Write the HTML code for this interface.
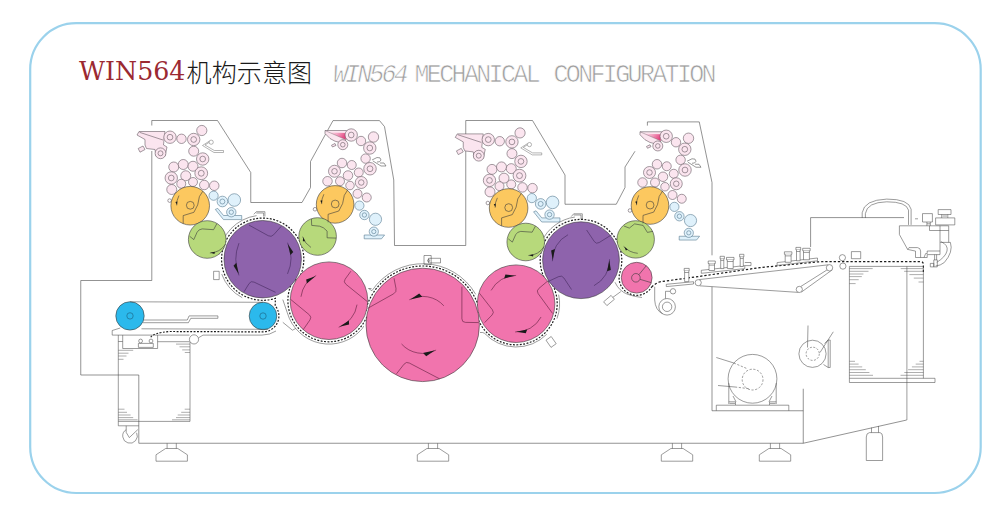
<!DOCTYPE html>
<html lang="zh"><head><meta charset="utf-8"><title>WIN564机构示意图</title>
<style>
html,body{margin:0;padding:0;background:#fff;}
body{width:1000px;height:515px;overflow:hidden;position:relative;}
svg{position:absolute;left:0;top:0;}
</style></head><body>
<svg width="1000" height="515" viewBox="0 0 1000 515" fill="none">
<rect x="30.2" y="23.2" width="950.5" height="469.8" rx="46" ry="46" fill="none" stroke="#9bd2ec" stroke-width="2.2"/>
<defs><linearGradient id="fg" x1="0" y1="0" x2="1" y2="0.35"><stop offset="0" stop-color="#fbdbe7"/><stop offset="0.45" stop-color="#f4a3c3"/><stop offset="1" stop-color="#e4447f"/></linearGradient></defs>
<path d="M151.75 120.5 H217.5 L250.75 172.5 V202.5 H302 L310.5 187.5 V161.5 L333 120.6 H379.5 L384.5 126.6 L393.75 180 L394.5 245.5 H465.75 V120.5 H532.5 L565 175 V204.25 H616.25 L625 187.5 V167 L635 151.25" fill="none" stroke="#4a4a4a" stroke-width="0.6" />
<path d="M647.4 125.6 V121.9 H699.25 L712 182.5 V255.3" fill="none" stroke="#4a4a4a" stroke-width="0.6" />
<path d="M712 286.8 V410.75 H803.25" fill="none" stroke="#4a4a4a" stroke-width="0.6" />
<path d="M151.8 120.5 V125.5 M151.8 151 V280.5 H80.75 V375 H138.8 V443.25 H803.25 V388.75" fill="none" stroke="#4a4a4a" stroke-width="0.6" />
<path d="M803.25 443.25 L906.75 420" fill="none" stroke="#4a4a4a" stroke-width="0.6" />
<path d="M810.6 247 V217.6 H904" fill="none" stroke="#4a4a4a" stroke-width="0.6" />
<g transform="translate(0,0)">
<path d="M139 131.5 H165 L164 140 L163.5 145 L167 147 L165 156 L156 156 L155 149.5 L146.5 148.5 L145 145 V139.5 L137 135 Z" fill="#fbe5ef" stroke="#675b63" stroke-width="0.6" />
<path d="M139.5 132.3 L163 140" fill="none" stroke="#675b63" stroke-width="0.6" />
<path d="M138.2 148.5 L143 146 L145 149.5 L140 152.2 Z" fill="#fbe5ef" stroke="#675b63" stroke-width="0.6" />
<circle cx="181.50" cy="138.80" r="4.70" fill="#fbe5ef" stroke="#675b63" stroke-width="0.6" />
<circle cx="201.80" cy="130.50" r="5.10" fill="#fbe5ef" stroke="#675b63" stroke-width="0.6" />
<circle cx="193.70" cy="151.20" r="5.00" fill="#fbe5ef" stroke="#675b63" stroke-width="0.6" />
<circle cx="173.75" cy="167.00" r="5.00" fill="#fbe5ef" stroke="#675b63" stroke-width="0.6" />
<circle cx="183.25" cy="164.50" r="5.00" fill="#fbe5ef" stroke="#675b63" stroke-width="0.6" />
<circle cx="193.00" cy="166.25" r="5.00" fill="#fbe5ef" stroke="#675b63" stroke-width="0.6" />
<circle cx="185.75" cy="175.75" r="5.00" fill="#fbe5ef" stroke="#675b63" stroke-width="0.6" />
<circle cx="181.25" cy="183.75" r="4.50" fill="#fbe5ef" stroke="#675b63" stroke-width="0.6" />
<circle cx="193.00" cy="182.00" r="4.50" fill="#fbe5ef" stroke="#675b63" stroke-width="0.6" />
<circle cx="171.75" cy="189.50" r="5.00" fill="#fbe5ef" stroke="#675b63" stroke-width="0.6" />
<circle cx="204.25" cy="185.00" r="4.75" fill="#fbe5ef" stroke="#675b63" stroke-width="0.6" />
<circle cx="214.25" cy="185.75" r="4.75" fill="#fbe5ef" stroke="#675b63" stroke-width="0.6" />
<circle cx="170.00" cy="137.20" r="6.20" fill="#fbe5ef" stroke="#675b63" stroke-width="0.6" />
<circle cx="170.00" cy="137.20" r="2.85" fill="#fbe5ef" stroke="#675b63" stroke-width="0.6" />
<circle cx="193.70" cy="139.50" r="6.20" fill="#fbe5ef" stroke="#675b63" stroke-width="0.6" />
<circle cx="193.70" cy="139.50" r="2.85" fill="#fbe5ef" stroke="#675b63" stroke-width="0.6" />
<circle cx="202.70" cy="159.00" r="6.20" fill="#fbe5ef" stroke="#675b63" stroke-width="0.6" />
<circle cx="202.70" cy="159.00" r="2.85" fill="#fbe5ef" stroke="#675b63" stroke-width="0.6" />
<circle cx="201.25" cy="173.25" r="6.40" fill="#fbe5ef" stroke="#675b63" stroke-width="0.6" />
<circle cx="201.25" cy="173.25" r="2.94" fill="#fbe5ef" stroke="#675b63" stroke-width="0.6" />
<circle cx="171.25" cy="178.00" r="6.20" fill="#fbe5ef" stroke="#675b63" stroke-width="0.6" />
<circle cx="171.25" cy="178.00" r="2.85" fill="#fbe5ef" stroke="#675b63" stroke-width="0.6" />
<circle cx="160.50" cy="153.30" r="5.40" fill="#fbe5ef" stroke="#675b63" stroke-width="0.6" />
<circle cx="160.50" cy="153.30" r="2.48" fill="#fbe5ef" stroke="#675b63" stroke-width="0.6" />
<circle cx="169.60" cy="200.60" r="1.80" fill="#fff" stroke="#675b63" stroke-width="0.6" />
<circle cx="213.60" cy="195.70" r="4.60" fill="#dff1fb" stroke="#587a91" stroke-width="0.6" />
<circle cx="234.30" cy="200.00" r="6.30" fill="#dff1fb" stroke="#587a91" stroke-width="0.6" />
<circle cx="222.40" cy="201.50" r="5.30" fill="#dff1fb" stroke="#587a91" stroke-width="0.6" />
<circle cx="222.40" cy="201.50" r="2.50" fill="#dff1fb" stroke="#587a91" stroke-width="0.6" />
<path d="M215.3 209.4 L217.8 208.4 L223.5 215.5 H241.7 V219.6 H223.5 Z" fill="#dff1fb" stroke="#587a91" stroke-width="0.6" />
<circle cx="231.30" cy="212.20" r="4.70" fill="#dff1fb" stroke="#587a91" stroke-width="0.6" />
<circle cx="231.30" cy="212.20" r="2.20" fill="#dff1fb" stroke="#587a91" stroke-width="0.6" />
<path d="M202.5 145.5 L209.2 141.2 M205 145 L210 141.8 M202.5 145.5 L214 152.5 H223.5 V150.5 H214.3 L205 145" fill="none" stroke="#6a6a6a" stroke-width="0.5" />
<circle cx="211.20" cy="142.20" r="2.10" fill="#fff" stroke="#6a6a6a" stroke-width="0.5" />
</g>
<g transform="translate(318.25,2.4)">
<path d="M139 131.5 H165 L164 140 L163.5 145 L167 147 L165 156 L156 156 L155 149.5 L146.5 148.5 L145 145 V139.5 L137 135 Z" fill="#fbe5ef" stroke="#675b63" stroke-width="0.6" />
<path d="M139.5 132.3 L163 140" fill="none" stroke="#675b63" stroke-width="0.6" />
<path d="M138.2 148.5 L143 146 L145 149.5 L140 152.2 Z" fill="#fbe5ef" stroke="#675b63" stroke-width="0.6" />
<circle cx="181.50" cy="138.80" r="4.70" fill="#fbe5ef" stroke="#675b63" stroke-width="0.6" />
<circle cx="201.80" cy="130.50" r="5.10" fill="#fbe5ef" stroke="#675b63" stroke-width="0.6" />
<circle cx="193.70" cy="151.20" r="5.00" fill="#fbe5ef" stroke="#675b63" stroke-width="0.6" />
<circle cx="173.75" cy="167.00" r="5.00" fill="#fbe5ef" stroke="#675b63" stroke-width="0.6" />
<circle cx="183.25" cy="164.50" r="5.00" fill="#fbe5ef" stroke="#675b63" stroke-width="0.6" />
<circle cx="193.00" cy="166.25" r="5.00" fill="#fbe5ef" stroke="#675b63" stroke-width="0.6" />
<circle cx="185.75" cy="175.75" r="5.00" fill="#fbe5ef" stroke="#675b63" stroke-width="0.6" />
<circle cx="181.25" cy="183.75" r="4.50" fill="#fbe5ef" stroke="#675b63" stroke-width="0.6" />
<circle cx="193.00" cy="182.00" r="4.50" fill="#fbe5ef" stroke="#675b63" stroke-width="0.6" />
<circle cx="171.75" cy="189.50" r="5.00" fill="#fbe5ef" stroke="#675b63" stroke-width="0.6" />
<circle cx="204.25" cy="185.00" r="4.75" fill="#fbe5ef" stroke="#675b63" stroke-width="0.6" />
<circle cx="214.25" cy="185.75" r="4.75" fill="#fbe5ef" stroke="#675b63" stroke-width="0.6" />
<circle cx="170.00" cy="137.20" r="6.20" fill="#fbe5ef" stroke="#675b63" stroke-width="0.6" />
<circle cx="170.00" cy="137.20" r="2.85" fill="#fbe5ef" stroke="#675b63" stroke-width="0.6" />
<circle cx="193.70" cy="139.50" r="6.20" fill="#fbe5ef" stroke="#675b63" stroke-width="0.6" />
<circle cx="193.70" cy="139.50" r="2.85" fill="#fbe5ef" stroke="#675b63" stroke-width="0.6" />
<circle cx="202.70" cy="159.00" r="6.20" fill="#fbe5ef" stroke="#675b63" stroke-width="0.6" />
<circle cx="202.70" cy="159.00" r="2.85" fill="#fbe5ef" stroke="#675b63" stroke-width="0.6" />
<circle cx="201.25" cy="173.25" r="6.40" fill="#fbe5ef" stroke="#675b63" stroke-width="0.6" />
<circle cx="201.25" cy="173.25" r="2.94" fill="#fbe5ef" stroke="#675b63" stroke-width="0.6" />
<circle cx="171.25" cy="178.00" r="6.20" fill="#fbe5ef" stroke="#675b63" stroke-width="0.6" />
<circle cx="171.25" cy="178.00" r="2.85" fill="#fbe5ef" stroke="#675b63" stroke-width="0.6" />
<circle cx="160.50" cy="153.30" r="5.40" fill="#fbe5ef" stroke="#675b63" stroke-width="0.6" />
<circle cx="160.50" cy="153.30" r="2.48" fill="#fbe5ef" stroke="#675b63" stroke-width="0.6" />
<circle cx="169.60" cy="200.60" r="1.80" fill="#fff" stroke="#675b63" stroke-width="0.6" />
<circle cx="213.60" cy="195.70" r="4.60" fill="#dff1fb" stroke="#587a91" stroke-width="0.6" />
<circle cx="234.30" cy="200.00" r="6.30" fill="#dff1fb" stroke="#587a91" stroke-width="0.6" />
<circle cx="222.40" cy="201.50" r="5.30" fill="#dff1fb" stroke="#587a91" stroke-width="0.6" />
<circle cx="222.40" cy="201.50" r="2.50" fill="#dff1fb" stroke="#587a91" stroke-width="0.6" />
<path d="M215.3 209.4 L217.8 208.4 L223.5 215.5 H241.7 V219.6 H223.5 Z" fill="#dff1fb" stroke="#587a91" stroke-width="0.6" />
<circle cx="231.30" cy="212.20" r="4.70" fill="#dff1fb" stroke="#587a91" stroke-width="0.6" />
<circle cx="231.30" cy="212.20" r="2.20" fill="#dff1fb" stroke="#587a91" stroke-width="0.6" />
<path d="M202.5 145.5 L209.2 141.2 M205 145 L210 141.8 M202.5 145.5 L214 152.5 H223.5 V150.5 H214.3 L205 145" fill="none" stroke="#6a6a6a" stroke-width="0.5" />
<circle cx="211.20" cy="142.20" r="2.10" fill="#fff" stroke="#6a6a6a" stroke-width="0.5" />
</g>
<g transform="translate(0,0)">
<path d="M325 130.5 H347.5 L346 140 L340 142.5 L335 141.2 L330 138.5 L325 133.5 Z" fill="#fbe5ef" stroke="#675b63" stroke-width="0.6" />
<path d="M329.5 132.6 L346.8 133 L345.6 139.6 Z" fill="url(#fg)" stroke="none" stroke-width="0.6" />
<path d="M325 130.5 L345.6 139.6" fill="none" stroke="#675b63" stroke-width="0.4" />
<path d="M331.5 145.2 L335 143.5 L336 145.4 L332.5 147 Z" fill="#fbe5ef" stroke="#675b63" stroke-width="0.6" />
<circle cx="361.00" cy="141.00" r="4.70" fill="#fbe5ef" stroke="#675b63" stroke-width="0.6" />
<circle cx="373.50" cy="137.00" r="5.20" fill="#fbe5ef" stroke="#675b63" stroke-width="0.6" />
<circle cx="365.60" cy="158.60" r="4.70" fill="#fbe5ef" stroke="#675b63" stroke-width="0.6" />
<circle cx="342.00" cy="163.00" r="4.75" fill="#fbe5ef" stroke="#675b63" stroke-width="0.6" />
<circle cx="351.75" cy="165.00" r="4.50" fill="#fbe5ef" stroke="#675b63" stroke-width="0.6" />
<circle cx="358.75" cy="172.50" r="4.50" fill="#fbe5ef" stroke="#675b63" stroke-width="0.6" />
<circle cx="348.00" cy="175.50" r="4.75" fill="#fbe5ef" stroke="#675b63" stroke-width="0.6" />
<circle cx="327.50" cy="181.25" r="4.75" fill="#fbe5ef" stroke="#675b63" stroke-width="0.6" />
<circle cx="340.00" cy="181.25" r="4.50" fill="#fbe5ef" stroke="#675b63" stroke-width="0.6" />
<circle cx="350.00" cy="185.50" r="4.25" fill="#fbe5ef" stroke="#675b63" stroke-width="0.6" />
<circle cx="357.50" cy="193.75" r="4.50" fill="#fbe5ef" stroke="#675b63" stroke-width="0.6" />
<circle cx="366.75" cy="197.50" r="4.50" fill="#fbe5ef" stroke="#675b63" stroke-width="0.6" />
<circle cx="351.20" cy="135.00" r="6.20" fill="#fbe5ef" stroke="#675b63" stroke-width="0.6" />
<circle cx="351.20" cy="135.00" r="2.85" fill="#fbe5ef" stroke="#675b63" stroke-width="0.6" />
<circle cx="342.80" cy="144.70" r="5.00" fill="#fbe5ef" stroke="#675b63" stroke-width="0.6" />
<circle cx="342.80" cy="144.70" r="2.30" fill="#fbe5ef" stroke="#675b63" stroke-width="0.6" />
<circle cx="369.80" cy="148.00" r="6.20" fill="#fbe5ef" stroke="#675b63" stroke-width="0.6" />
<circle cx="369.80" cy="148.00" r="2.85" fill="#fbe5ef" stroke="#675b63" stroke-width="0.6" />
<circle cx="370.00" cy="168.75" r="6.25" fill="#fbe5ef" stroke="#675b63" stroke-width="0.6" />
<circle cx="370.00" cy="168.75" r="2.88" fill="#fbe5ef" stroke="#675b63" stroke-width="0.6" />
<circle cx="334.50" cy="171.25" r="6.00" fill="#fbe5ef" stroke="#675b63" stroke-width="0.6" />
<circle cx="334.50" cy="171.25" r="2.76" fill="#fbe5ef" stroke="#675b63" stroke-width="0.6" />
<circle cx="361.25" cy="182.50" r="6.00" fill="#fbe5ef" stroke="#675b63" stroke-width="0.6" />
<circle cx="361.25" cy="182.50" r="2.76" fill="#fbe5ef" stroke="#675b63" stroke-width="0.6" />
<circle cx="315.00" cy="209.25" r="1.80" fill="#fff" stroke="#675b63" stroke-width="0.6" />
<circle cx="359.40" cy="205.60" r="4.60" fill="#dff1fb" stroke="#587a91" stroke-width="0.6" />
<circle cx="375.50" cy="219.30" r="6.10" fill="#dff1fb" stroke="#587a91" stroke-width="0.6" />
<circle cx="364.40" cy="215.00" r="4.70" fill="#dff1fb" stroke="#587a91" stroke-width="0.6" />
<circle cx="364.40" cy="215.00" r="2.20" fill="#dff1fb" stroke="#587a91" stroke-width="0.6" />
<path d="M364.2 235 H384.6 L381.5 238.8 H364.2 Z" fill="#dff1fb" stroke="#587a91" stroke-width="0.6" />
<circle cx="373.80" cy="231.60" r="4.60" fill="#dff1fb" stroke="#587a91" stroke-width="0.6" />
<circle cx="373.80" cy="231.60" r="2.10" fill="#dff1fb" stroke="#587a91" stroke-width="0.6" />
<path d="M372 160 L377 157.5 Q381 157 381 160 Q380 162.5 377 162 M373 161 L381 166 H386 L384 163 L380 163" fill="none" stroke="#555" stroke-width="0.6" />
</g>
<g transform="translate(315,1.25)">
<path d="M325 130.5 H347.5 L346 140 L340 142.5 L335 141.2 L330 138.5 L325 133.5 Z" fill="#fbe5ef" stroke="#675b63" stroke-width="0.6" />
<path d="M329.5 132.6 L346.8 133 L345.6 139.6 Z" fill="url(#fg)" stroke="none" stroke-width="0.6" />
<path d="M325 130.5 L345.6 139.6" fill="none" stroke="#675b63" stroke-width="0.4" />
<path d="M331.5 145.2 L335 143.5 L336 145.4 L332.5 147 Z" fill="#fbe5ef" stroke="#675b63" stroke-width="0.6" />
<circle cx="361.00" cy="141.00" r="4.70" fill="#fbe5ef" stroke="#675b63" stroke-width="0.6" />
<circle cx="373.50" cy="137.00" r="5.20" fill="#fbe5ef" stroke="#675b63" stroke-width="0.6" />
<circle cx="365.60" cy="158.60" r="4.70" fill="#fbe5ef" stroke="#675b63" stroke-width="0.6" />
<circle cx="342.00" cy="163.00" r="4.75" fill="#fbe5ef" stroke="#675b63" stroke-width="0.6" />
<circle cx="351.75" cy="165.00" r="4.50" fill="#fbe5ef" stroke="#675b63" stroke-width="0.6" />
<circle cx="358.75" cy="172.50" r="4.50" fill="#fbe5ef" stroke="#675b63" stroke-width="0.6" />
<circle cx="348.00" cy="175.50" r="4.75" fill="#fbe5ef" stroke="#675b63" stroke-width="0.6" />
<circle cx="327.50" cy="181.25" r="4.75" fill="#fbe5ef" stroke="#675b63" stroke-width="0.6" />
<circle cx="340.00" cy="181.25" r="4.50" fill="#fbe5ef" stroke="#675b63" stroke-width="0.6" />
<circle cx="350.00" cy="185.50" r="4.25" fill="#fbe5ef" stroke="#675b63" stroke-width="0.6" />
<circle cx="357.50" cy="193.75" r="4.50" fill="#fbe5ef" stroke="#675b63" stroke-width="0.6" />
<circle cx="366.75" cy="197.50" r="4.50" fill="#fbe5ef" stroke="#675b63" stroke-width="0.6" />
<circle cx="351.20" cy="135.00" r="6.20" fill="#fbe5ef" stroke="#675b63" stroke-width="0.6" />
<circle cx="351.20" cy="135.00" r="2.85" fill="#fbe5ef" stroke="#675b63" stroke-width="0.6" />
<circle cx="342.80" cy="144.70" r="5.00" fill="#fbe5ef" stroke="#675b63" stroke-width="0.6" />
<circle cx="342.80" cy="144.70" r="2.30" fill="#fbe5ef" stroke="#675b63" stroke-width="0.6" />
<circle cx="369.80" cy="148.00" r="6.20" fill="#fbe5ef" stroke="#675b63" stroke-width="0.6" />
<circle cx="369.80" cy="148.00" r="2.85" fill="#fbe5ef" stroke="#675b63" stroke-width="0.6" />
<circle cx="370.00" cy="168.75" r="6.25" fill="#fbe5ef" stroke="#675b63" stroke-width="0.6" />
<circle cx="370.00" cy="168.75" r="2.88" fill="#fbe5ef" stroke="#675b63" stroke-width="0.6" />
<circle cx="334.50" cy="171.25" r="6.00" fill="#fbe5ef" stroke="#675b63" stroke-width="0.6" />
<circle cx="334.50" cy="171.25" r="2.76" fill="#fbe5ef" stroke="#675b63" stroke-width="0.6" />
<circle cx="361.25" cy="182.50" r="6.00" fill="#fbe5ef" stroke="#675b63" stroke-width="0.6" />
<circle cx="361.25" cy="182.50" r="2.76" fill="#fbe5ef" stroke="#675b63" stroke-width="0.6" />
<circle cx="315.00" cy="209.25" r="1.80" fill="#fff" stroke="#675b63" stroke-width="0.6" />
<circle cx="359.40" cy="205.60" r="4.60" fill="#dff1fb" stroke="#587a91" stroke-width="0.6" />
<circle cx="375.50" cy="219.30" r="6.10" fill="#dff1fb" stroke="#587a91" stroke-width="0.6" />
<circle cx="364.40" cy="215.00" r="4.70" fill="#dff1fb" stroke="#587a91" stroke-width="0.6" />
<circle cx="364.40" cy="215.00" r="2.20" fill="#dff1fb" stroke="#587a91" stroke-width="0.6" />
<path d="M364.2 235 H384.6 L381.5 238.8 H364.2 Z" fill="#dff1fb" stroke="#587a91" stroke-width="0.6" />
<circle cx="373.80" cy="231.60" r="4.60" fill="#dff1fb" stroke="#587a91" stroke-width="0.6" />
<circle cx="373.80" cy="231.60" r="2.10" fill="#dff1fb" stroke="#587a91" stroke-width="0.6" />
<path d="M372 160 L377 157.5 Q381 157 381 160 Q380 162.5 377 162 M373 161 L381 166 H386 L384 163 L380 163" fill="none" stroke="#555" stroke-width="0.6" />
</g>
<path d="M218.94 254.60 A44.00 44.00 0 0 1 256.58 215.63 " fill="none" stroke="#3a3a3a" stroke-width="0.5" />
<path d="M221.73 274.11 A43.60 43.60 0 0 0 242.23 297.70 " fill="none" stroke="#3a3a3a" stroke-width="0.5" />
<path d="M213.6 271.3 h5.6 v8.3 h-5.6 Z" fill="none" stroke="#3a3a3a" stroke-width="0.5" />
<path d="M253.8 214.3 L256.3 211.7 H264.9 V216.5 M256.3 213 H263.6 V216.5" fill="none" stroke="#3a3a3a" stroke-width="0.5" />
<path d="M282.8 299.6 L287.28 312.66 A43.40 43.40 0 0 0 362.25 328.60  l1.5 -2.5" fill="none" stroke="#3a3a3a" stroke-width="0.5" />
<path d="M282.8 322.3 L292.4 330.2 L295.9 328.4" fill="none" stroke="#3a3a3a" stroke-width="0.5" />
<path d="M371.5 288.5 h-3 L371.96 290.68 A61.20 61.20 0 0 1 475.70 294.30 " fill="none" stroke="#3a3a3a" stroke-width="0.5" />
<path d="M424 255.5 h7.2 v8.8 h-7.2 Z M428.5 258.3 h12 v4.6 h-12 Z" fill="none" stroke="#3a3a3a" stroke-width="0.5" />
<circle cx="428.60" cy="260.60" r="1.10" fill="none" stroke="#3a3a3a" stroke-width="0.5" />
<path d="M480 332.5 h2.5 L484.43 333.23 A43.30 43.30 0 0 0 546.72 334.32 " fill="none" stroke="#3a3a3a" stroke-width="0.5" />
<path d="M546 340.2 L551.2 336.5 L556.2 343.7 L551 347.4 Z" fill="#fff" stroke="#3a3a3a" stroke-width="0.5" />
<path d="M571.2 216.6 L573.7 213.8 H582.3 V219.3 M573.7 215 H581 V219.3" fill="none" stroke="#3a3a3a" stroke-width="0.5" />
<path d="M541.48 241.77 A43.60 43.60 0 0 1 574.93 217.02 " fill="none" stroke="#3a3a3a" stroke-width="0.5" />
<path d="M556.98 318.58 A43.50 43.50 0 0 0 558.65 294.66 " fill="none" stroke="#3a3a3a" stroke-width="0.5" />
<path d="M615 282.3 Q619 291 627.5 294.3 Q634 296.6 642 297.5" fill="none" stroke="#3a3a3a" stroke-width="0.5" />
<path d="M603.6 301.8 L611.1 295.4 L614.4 299.3 L606.9 305.6 Z M612.8 297.4 L620.8 291.6" fill="none" stroke="#3a3a3a" stroke-width="0.5" />
<path d="M150.8 337.3 Q153 332.8 170 331.5 L263 331.9 L263.00 331.90 A15.90 15.90 0 0 0 275.18 305.78 L275.40 298.29 A41.10 41.10 0 0 1 237.41 226.80 A41.10 41.10 0 0 1 297.54 281.01 L294.16 278.89 A41.10 41.10 0 0 0 312.77 338.46 A41.10 41.10 0 0 0 368.79 310.98 L365.67 310.17 A58.90 58.90 0 0 1 480.14 311.86 L476.02 312.80 A41.10 41.10 0 0 0 532.36 341.45 A41.10 41.10 0 0 0 550.24 280.82 L547.11 282.92 A40.80 40.80 0 0 1 575.18 219.82 A40.80 40.80 0 0 1 619.92 272.43 L619.91 272.42 A17.60 17.60 0 0 0 651.63 287.03 " fill="none" stroke="#1c1c1c" stroke-width="1.2" stroke-dasharray="1.9 1.5"/>
<path d="M651.63 287.03 Q655 283.6 660 281.8 L673 280 L698 276.6 L760 267.6 L818 261.9 Q826 261.5 834 261.6 L920.5 261.6 Q923.4 261.7 923.4 264.5 V272" fill="none" stroke="#1c1c1c" stroke-width="1.2" stroke-dasharray="2.3 1.9"/>
<circle cx="190.20" cy="205.70" r="19.30" fill="#fcc85f" stroke="#3a3a3a" stroke-width="0.6" />
<circle cx="335.10" cy="204.40" r="18.80" fill="#fcc85f" stroke="#3a3a3a" stroke-width="0.6" />
<circle cx="508.60" cy="208.00" r="19.30" fill="#fcc85f" stroke="#3a3a3a" stroke-width="0.6" />
<circle cx="650.00" cy="205.50" r="18.80" fill="#fcc85f" stroke="#3a3a3a" stroke-width="0.6" />
<circle cx="207.20" cy="239.50" r="18.80" fill="#b7d97b" stroke="#3a3a3a" stroke-width="0.6" />
<circle cx="317.60" cy="236.50" r="18.80" fill="#b7d97b" stroke="#3a3a3a" stroke-width="0.6" />
<circle cx="525.75" cy="242.00" r="18.80" fill="#b7d97b" stroke="#3a3a3a" stroke-width="0.6" />
<circle cx="635.70" cy="239.40" r="18.70" fill="#b7d97b" stroke="#3a3a3a" stroke-width="0.6" />
<circle cx="262.70" cy="259.20" r="38.70" fill="#8e63ac" stroke="#3a3a3a" stroke-width="0.6" />
<circle cx="581.00" cy="260.20" r="38.40" fill="#8e63ac" stroke="#3a3a3a" stroke-width="0.6" />
<circle cx="329.00" cy="300.70" r="38.80" fill="#f174ad" stroke="#3a3a3a" stroke-width="0.6" />
<circle cx="516.10" cy="303.70" r="38.80" fill="#f174ad" stroke="#3a3a3a" stroke-width="0.6" />
<circle cx="422.70" cy="324.90" r="56.70" fill="#f174ad" stroke="#3a3a3a" stroke-width="0.6" />
<circle cx="636.70" cy="277.70" r="15.40" fill="#f174ad" stroke="#3a3a3a" stroke-width="0.6" />
<circle cx="130.00" cy="315.90" r="14.20" fill="#2bb9ec" stroke="#3a3a3a" stroke-width="0.6" />
<circle cx="263.00" cy="316.00" r="13.80" fill="#2bb9ec" stroke="#3a3a3a" stroke-width="0.6" />
<circle cx="130.00" cy="315.90" r="3.20" fill="none" stroke="#1d6a8c" stroke-width="0.7" />
<circle cx="263.00" cy="316.00" r="3.20" fill="none" stroke="#1d6a8c" stroke-width="0.7" />
<circle cx="190.30" cy="205.30" r="3.90" fill="none" stroke="#3a3a3a" stroke-width="0.6" />
<path d="M202.80 191.20 L199.40 196.60 L197.70 204.90 L193.90 212.30 L183.20 215.60 L183.20 223.60" fill="none" stroke="#3a3a3a" stroke-width="0.6" />
<path d="M178.98 195.55 A19.50 19.50 0 0 0 176.71 205.38 " fill="none" stroke="#3a3a3a" stroke-width="0.6" />
<path d="M177.00 204.70 L175.37 202.02 L177.26 201.56 Z" fill="#1a1a1a" stroke="none" stroke-width="0.6" />
<circle cx="335.20" cy="204.00" r="3.90" fill="none" stroke="#3a3a3a" stroke-width="0.6" />
<path d="M347.70 189.90 L344.30 195.30 L342.60 203.60 L338.80 211.00 L328.10 214.30 L328.10 222.30" fill="none" stroke="#3a3a3a" stroke-width="0.6" />
<path d="M323.88 194.25 A19.50 19.50 0 0 0 321.61 204.08 " fill="none" stroke="#3a3a3a" stroke-width="0.6" />
<path d="M321.90 203.40 L320.27 200.72 L322.16 200.26 Z" fill="#1a1a1a" stroke="none" stroke-width="0.6" />
<circle cx="508.70" cy="207.60" r="3.90" fill="none" stroke="#3a3a3a" stroke-width="0.6" />
<path d="M521.20 193.50 L517.80 198.90 L516.10 207.20 L512.30 214.60 L501.60 217.90 L501.60 225.90" fill="none" stroke="#3a3a3a" stroke-width="0.6" />
<path d="M497.38 197.85 A19.50 19.50 0 0 0 495.11 207.68 " fill="none" stroke="#3a3a3a" stroke-width="0.6" />
<path d="M495.40 207.00 L493.77 204.32 L495.66 203.86 Z" fill="#1a1a1a" stroke="none" stroke-width="0.6" />
<circle cx="650.10" cy="205.10" r="3.90" fill="none" stroke="#3a3a3a" stroke-width="0.6" />
<path d="M662.60 191.00 L659.20 196.40 L657.50 204.70 L653.70 212.10 L643.00 215.40 L643.00 223.40" fill="none" stroke="#3a3a3a" stroke-width="0.6" />
<path d="M638.78 195.35 A19.50 19.50 0 0 0 636.51 205.18 " fill="none" stroke="#3a3a3a" stroke-width="0.6" />
<path d="M636.80 204.50 L635.17 201.82 L637.06 201.36 Z" fill="#1a1a1a" stroke="none" stroke-width="0.6" />
<path d="M189.70 236.30 L193.80 239.60 L197.10 232.20 Q198.70 229.20 202.20 228.90 L213.60 229.70 L216.90 223.60" fill="none" stroke="#3a3a3a" stroke-width="0.6" />
<path d="M225.55 244.12 A19.50 19.50 0 0 1 209.88 252.99 " fill="none" stroke="#3a3a3a" stroke-width="0.6" />
<path d="M210.54 252.65 L214.42 253.95 L214.88 251.84 Z" fill="#1a1a1a" stroke="none" stroke-width="0.6" />
<path d="M311.40 218.90 L311.70 225.40 L319.60 226.20 Q323.60 227.00 327.10 231.10 L327.10 237.80 L336.20 238.10" fill="none" stroke="#3a3a3a" stroke-width="0.6" />
<path d="M311.00 247.46 A20.00 20.00 0 0 1 302.58 236.68 " fill="none" stroke="#3a3a3a" stroke-width="0.6" />
<path d="M303.09 237.24 L302.90 241.32 L305.06 241.20 Z" fill="#1a1a1a" stroke="none" stroke-width="0.6" />
<path d="M508.25 238.80 L512.35 242.10 L515.65 234.70 Q517.25 231.70 520.75 231.40 L532.15 232.20 L535.45 226.10" fill="none" stroke="#3a3a3a" stroke-width="0.6" />
<path d="M544.10 246.62 A19.50 19.50 0 0 1 528.43 255.49 " fill="none" stroke="#3a3a3a" stroke-width="0.6" />
<path d="M529.09 255.15 L532.97 256.45 L533.43 254.34 Z" fill="#1a1a1a" stroke="none" stroke-width="0.6" />
<path d="M623.90 226.00 L629.30 228.10 L634.60 223.90 L643.10 225.40 L647.40 232.40 L653.00 231.30" fill="none" stroke="#3a3a3a" stroke-width="0.6" />
<path d="M637.78 253.32 A22.00 22.00 0 0 1 623.61 246.40 " fill="none" stroke="#3a3a3a" stroke-width="0.6" />
<path d="M624.36 246.74 L625.88 250.53 L627.79 249.54 Z" fill="#1a1a1a" stroke="none" stroke-width="0.6" />
<path d="M249.00 225.10 L268.24 235.71 Q271.30 237.40 273.63 234.79 L281.20 226.30" fill="none" stroke="#43285c" stroke-width="0.6" />
<path d="M244.00 291.80 L249.06 283.58 Q250.90 280.60 254.06 282.10 L275.50 292.30" fill="none" stroke="#43285c" stroke-width="0.6" />
<path d="M238.96 243.17 A44.00 44.00 0 0 0 238.96 275.43 " fill="none" stroke="#43285c" stroke-width="0.6" />
<path d="M238.71 273.89 L233.54 265.67 L236.34 262.75 Z" fill="#1a1a1a" stroke="none" stroke-width="0.6" />
<path d="M287.50 273.91 A37.50 37.50 0 0 0 287.50 242.69 " fill="none" stroke="#43285c" stroke-width="0.6" />
<path d="M287.74 244.00 L293.22 252.07 L290.46 255.04 Z" fill="#1a1a1a" stroke="none" stroke-width="0.6" />
<path d="M586.60 230.00 L594.26 241.49 Q596.20 244.40 599.17 242.55 L612.40 234.30" fill="none" stroke="#43285c" stroke-width="0.6" />
<path d="M548.10 281.50 L558.82 276.56 Q562.00 275.10 563.93 278.02 L571.50 289.50" fill="none" stroke="#43285c" stroke-width="0.6" />
<path d="M568.02 234.72 A28.60 28.60 0 0 0 552.42 261.20 " fill="none" stroke="#43285c" stroke-width="0.6" />
<path d="M552.70 260.20 L551.13 250.51 L554.96 249.12 Z" fill="#1a1a1a" stroke="none" stroke-width="0.6" />
<path d="M593.98 285.68 A28.60 28.60 0 0 0 609.58 259.20 " fill="none" stroke="#43285c" stroke-width="0.6" />
<path d="M609.30 260.20 L610.87 269.89 L607.04 271.28 Z" fill="#1a1a1a" stroke="none" stroke-width="0.6" />
<path d="M350.90 271.20 L345.15 279.16 Q343.10 282.00 345.82 284.20 L367.60 301.80" fill="none" stroke="#5e1f3c" stroke-width="0.6" />
<path d="M290.50 299.30 L309.30 314.78 Q312.00 317.00 310.00 319.87 L303.10 329.80" fill="none" stroke="#5e1f3c" stroke-width="0.6" />
<path d="M300.98 296.76 A28.30 28.30 0 0 1 316.15 275.48 " fill="none" stroke="#5e1f3c" stroke-width="0.6" />
<path d="M315.43 276.21 L306.20 279.55 L306.85 283.57 Z" fill="#1a1a1a" stroke="none" stroke-width="0.6" />
<path d="M357.02 304.64 A28.30 28.30 0 0 1 338.68 327.29 " fill="none" stroke="#5e1f3c" stroke-width="0.6" />
<path d="M339.49 326.66 L349.06 324.47 L348.90 320.40 Z" fill="#1a1a1a" stroke="none" stroke-width="0.6" />
<path d="M479.40 293.20 L492.34 309.74 Q494.50 312.50 492.05 315.00 L484.60 322.60" fill="none" stroke="#5e1f3c" stroke-width="0.6" />
<path d="M547.70 281.00 L538.77 288.54 Q536.10 290.80 538.16 293.63 L552.60 313.50" fill="none" stroke="#5e1f3c" stroke-width="0.6" />
<path d="M491.11 290.41 A28.30 28.30 0 0 1 516.10 275.40 " fill="none" stroke="#5e1f3c" stroke-width="0.6" />
<path d="M515.12 275.72 L505.38 274.51 L504.14 278.38 Z" fill="#1a1a1a" stroke="none" stroke-width="0.6" />
<path d="M541.09 316.99 A28.30 28.30 0 0 1 515.11 331.98 " fill="none" stroke="#5e1f3c" stroke-width="0.6" />
<path d="M516.10 331.70 L525.79 333.25 L527.17 329.42 Z" fill="#1a1a1a" stroke="none" stroke-width="0.6" />
<path d="M394.00 278.20 L396.03 288.66 Q396.70 292.10 393.65 293.81 L367.60 308.40" fill="none" stroke="#5e1f3c" stroke-width="0.6" />
<path d="M461.90 286.70 L461.90 318.80 Q461.90 322.30 465.40 322.36 L478.60 322.60" fill="none" stroke="#5e1f3c" stroke-width="0.6" />
<path d="M396.50 373.80 L404.04 364.16 Q406.20 361.40 409.30 363.02 L439.50 378.80" fill="none" stroke="#5e1f3c" stroke-width="0.6" />
<path d="M443.88 305.83 A28.50 28.50 0 0 0 409.32 299.74 " fill="none" stroke="#5e1f3c" stroke-width="0.6" />
<path d="M410.34 299.55 L419.19 293.60 L422.27 296.70 Z" fill="#1a1a1a" stroke="none" stroke-width="0.6" />
<path d="M401.52 343.97 A28.50 28.50 0 0 0 436.08 350.06 " fill="none" stroke="#5e1f3c" stroke-width="0.6" />
<path d="M435.06 350.25 L426.21 356.20 L423.13 353.10 Z" fill="#1a1a1a" stroke="none" stroke-width="0.6" />
<circle cx="635.90" cy="277.80" r="4.30" fill="none" stroke="#3a3a3a" stroke-width="0.6" />
<path d="M638.90 274.70 L646.30 265.70 M640.00 279.30 L651.30 282.70" fill="none" stroke="#3a3a3a" stroke-width="0.6" />
<path d="M130 301.8 L263 302.3" fill="none" stroke="#4a4a4a" stroke-width="0.55" />
<path d="M143.9 320 H187.3 L189.1 315.9 H217.9 V318.3 H190.8 L188.4 322.7 H143" fill="none" stroke="#4a4a4a" stroke-width="0.55" />
<path d="M120.3 328 L112.2 330.5 V335.1 H189.5" fill="none" stroke="#4a4a4a" stroke-width="0.55" />
<path d="M141.5 328.8 L268 329.3" fill="none" stroke="#4a4a4a" stroke-width="0.55" />
<path d="M198.5 337.8 L203 335.1 L262 335.1 Q270 335 276 331" fill="none" stroke="#4a4a4a" stroke-width="0.55" />
<circle cx="194.00" cy="339.40" r="4.60" fill="#fff" stroke="#4a4a4a" stroke-width="0.55" />
<path d="M122.7 335.1 V348.5 H157.6 V335.1 M157.6 341.7 H189.6 M118.3 341.5 H122.7" fill="none" stroke="#4a4a4a" stroke-width="0.55" />
<path d="M138.4 343.4 H153.3 V347.4 H138.4 Z" fill="none" stroke="#4a4a4a" stroke-width="0.55" />
<circle cx="140.60" cy="341.00" r="1.90" fill="#fff" stroke="#4a4a4a" stroke-width="0.55" />
<circle cx="151.00" cy="341.00" r="1.90" fill="#fff" stroke="#4a4a4a" stroke-width="0.55" />
<path d="M118.3 335.1 V425.8 H138.8 M118.3 421.4 H190 V342" fill="none" stroke="#4a4a4a" stroke-width="0.55" />
<path d="M118.3 350.3 H133.2" fill="none" stroke="#4a4a4a" stroke-width="0.45" />
<path d="M118.3 353.2 H128.5" fill="none" stroke="#4a4a4a" stroke-width="0.45" />
<path d="M118.3 356 H126.5" fill="none" stroke="#4a4a4a" stroke-width="0.45" />
<path d="M118.3 359.3 H123.5" fill="none" stroke="#4a4a4a" stroke-width="0.45" />
<path d="M190 344.1 H176" fill="none" stroke="#4a4a4a" stroke-width="0.45" />
<path d="M190 346.8 H179.5" fill="none" stroke="#4a4a4a" stroke-width="0.45" />
<path d="M190 349.9 H182.2" fill="none" stroke="#4a4a4a" stroke-width="0.45" />
<path d="M190 352.5 H184.8" fill="none" stroke="#4a4a4a" stroke-width="0.45" />
<path d="M118.3 409.2 H124.5" fill="none" stroke="#4a4a4a" stroke-width="0.45" />
<path d="M118.3 412.3 H127" fill="none" stroke="#4a4a4a" stroke-width="0.45" />
<path d="M118.3 415 H130.6" fill="none" stroke="#4a4a4a" stroke-width="0.45" />
<path d="M118.3 417.6 H133.2" fill="none" stroke="#4a4a4a" stroke-width="0.45" />
<path d="M118.3 419.8 H137.6" fill="none" stroke="#4a4a4a" stroke-width="0.45" />
<path d="M190 409.2 H184.7" fill="none" stroke="#4a4a4a" stroke-width="0.45" />
<path d="M190 412.3 H181.2" fill="none" stroke="#4a4a4a" stroke-width="0.45" />
<path d="M190 415 H177.7" fill="none" stroke="#4a4a4a" stroke-width="0.45" />
<path d="M190 417.6 H176" fill="none" stroke="#4a4a4a" stroke-width="0.45" />
<path d="M190 419.8 H172" fill="none" stroke="#4a4a4a" stroke-width="0.45" />
<path d="M126.2 425.8 V432.4 L129.3 437.6 L137.8 429.6" fill="none" stroke="#4a4a4a" stroke-width="0.55" />
<path d="M126.13 429.71 A7.30 7.30 0 0 0 127.93 442.90 A7.30 7.30 0 0 0 136.62 432.81 " fill="none" stroke="#4a4a4a" stroke-width="0.55" />
<path d="M167.1 443.3 V448.5 M176.29999999999998 443.3 V448.5 M165.6 448.5 H177.79999999999998 L187.39999999999998 454.8 V461.2 H156.0 V454.8 Z" fill="none" stroke="#4a4a4a" stroke-width="0.55" />
<path d="M428.4 443.3 V448.5 M437.6 443.3 V448.5 M426.9 448.5 H439.1 L448.7 454.8 V461.2 H417.3 V454.8 Z" fill="none" stroke="#4a4a4a" stroke-width="0.55" />
<path d="M672.4 443.3 V448.5 M681.6 443.3 V448.5 M670.9 448.5 H683.1 L692.7 454.8 V461.2 H661.3 V454.8 Z" fill="none" stroke="#4a4a4a" stroke-width="0.55" />
<path d="M770.4 443.3 V448.5 M779.6 443.3 V448.5 M768.9 448.5 H781.1 L790.7 454.8 V461.2 H759.3 V454.8 Z" fill="none" stroke="#4a4a4a" stroke-width="0.55" />
<path d="M871.5 427.6 V432.6 M878.5 426 V432.6 M869.5 432.6 H880 Q882.6 433 882.6 437 V460.5 H866.3 V437 Q866.3 433 869.5 432.6 Z" fill="none" stroke="#4a4a4a" stroke-width="0.55" />
<circle cx="667.10" cy="306.80" r="8.30" fill="#fff" stroke="#4a4a4a" stroke-width="0.55" />
<circle cx="667.10" cy="306.80" r="4.70" fill="#fff" stroke="#4a4a4a" stroke-width="0.55" />
<path d="M654.7 286.8 V300 Q655.2 310 662.5 313.8" fill="none" stroke="#4a4a4a" stroke-width="0.55" />
<path d="M665.5 298.6 V291.3 H670.4" fill="none" stroke="#4a4a4a" stroke-width="0.55" />
<circle cx="673.00" cy="291.30" r="2.70" fill="#fff" stroke="#4a4a4a" stroke-width="0.55" />
<path d="M699 279.6 L828.4 264.8" fill="none" stroke="#4a4a4a" stroke-width="0.55" />
<path d="M832.3 269.8 L801.4 292.1 M826.9 270 L800.6 286.6" fill="none" stroke="#4a4a4a" stroke-width="0.55" />
<path d="M699.5 285.8 L798.6 292.4" fill="none" stroke="#4a4a4a" stroke-width="0.55" />
<circle cx="698.20" cy="282.70" r="3.10" fill="#fff" stroke="#4a4a4a" stroke-width="0.55" />
<circle cx="829.50" cy="267.80" r="3.20" fill="#fff" stroke="#4a4a4a" stroke-width="0.55" />
<circle cx="799.30" cy="289.40" r="3.10" fill="#fff" stroke="#4a4a4a" stroke-width="0.55" />
<path d="M666.3 284.3 L693.5 281.7 V284.0 L666.3 286.6 Z" fill="#fff" stroke="#4a4a4a" stroke-width="0.55" />
<path d="M701.3 270.3 L744.8 265.6 V268.6 L701.3 273.3 Z" fill="#fff" stroke="#4a4a4a" stroke-width="0.55" />
<path d="M744.8 262.5 H751 V265.6 H744.8" fill="#fff" stroke="#4a4a4a" stroke-width="0.55" />
<path d="M777.1 262.6 L817.5 258 V260.8 L777.1 265.40000000000003 Z" fill="#fff" stroke="#4a4a4a" stroke-width="0.55" />
<path d="M684.2 268.4 H689.1999999999999 V270.9 H684.2 Z" fill="#fff" stroke="#4a4a4a" stroke-width="0.55" />
<path d="M684.6 270.9 V281.6 H688.8 V270.9" fill="#fff" stroke="#4a4a4a" stroke-width="0.55" />
<path d="M684.6 272.5 H688.8" fill="none" stroke="#4a4a4a" stroke-width="0.55" />
<path d="M708.2 261 H715.3 V263.5 H708.2 Z" fill="#fff" stroke="#4a4a4a" stroke-width="0.55" />
<path d="M709 263.5 V270.5 H714.5 V263.5" fill="#fff" stroke="#4a4a4a" stroke-width="0.55" />
<path d="M709 265.1 H714.5" fill="none" stroke="#4a4a4a" stroke-width="0.55" />
<path d="M720.1 256.3 H724.4 V258.8 H720.1 Z" fill="#fff" stroke="#4a4a4a" stroke-width="0.55" />
<path d="M720.7 258.8 V268.6 H723.8 V258.8" fill="#fff" stroke="#4a4a4a" stroke-width="0.55" />
<path d="M720.7 260.40000000000003 H723.8" fill="none" stroke="#4a4a4a" stroke-width="0.55" />
<path d="M726.5 257.4 H734.0 V259.9 H726.5 Z" fill="#fff" stroke="#4a4a4a" stroke-width="0.55" />
<path d="M727.3 259.9 V268.5 H733.2 V259.9" fill="#fff" stroke="#4a4a4a" stroke-width="0.55" />
<path d="M727.3 261.5 H733.2" fill="none" stroke="#4a4a4a" stroke-width="0.55" />
<path d="M739.6 254.3 H743.9 V256.8 H739.6 Z" fill="#fff" stroke="#4a4a4a" stroke-width="0.55" />
<path d="M740.2 256.8 V266.5 H743.3 V256.8" fill="#fff" stroke="#4a4a4a" stroke-width="0.55" />
<path d="M740.2 258.40000000000003 H743.3" fill="none" stroke="#4a4a4a" stroke-width="0.55" />
<path d="M784.4000000000001 251.8 H791.9 V254.3 H784.4000000000001 Z" fill="#fff" stroke="#4a4a4a" stroke-width="0.55" />
<path d="M785.2 254.3 V262.3 H791.1 V254.3" fill="#fff" stroke="#4a4a4a" stroke-width="0.55" />
<path d="M785.2 255.9 H791.1" fill="none" stroke="#4a4a4a" stroke-width="0.55" />
<path d="M795.9 247.4 H800.7 V249.9 H795.9 Z" fill="#fff" stroke="#4a4a4a" stroke-width="0.55" />
<path d="M796.5 249.9 V260.8 H800.1 V249.9" fill="#fff" stroke="#4a4a4a" stroke-width="0.55" />
<path d="M796.5 251.5 H800.1" fill="none" stroke="#4a4a4a" stroke-width="0.55" />
<path d="M802.7 248.3 H810.1999999999999 V250.8 H802.7 Z" fill="#fff" stroke="#4a4a4a" stroke-width="0.55" />
<path d="M803.5 250.8 V259.8 H809.4 V250.8" fill="#fff" stroke="#4a4a4a" stroke-width="0.55" />
<path d="M803.5 252.4 H809.4" fill="none" stroke="#4a4a4a" stroke-width="0.55" />
<circle cx="842.40" cy="257.70" r="3.10" fill="#fff" stroke="#4a4a4a" stroke-width="0.55" />
<circle cx="842.90" cy="266.10" r="3.10" fill="#fff" stroke="#4a4a4a" stroke-width="0.55" />
<path d="M851.4 251.6 H860.7 V258.7 H851.4 Z" fill="none" stroke="#4a4a4a" stroke-width="0.55" />
<path d="M849.4 266.4 V382.5 H935 V378.3 H849.4 M849.4 266.4 H923.4 V378.3 M906.9 266.4 V420" fill="none" stroke="#4a4a4a" stroke-width="0.55" />
<path d="M849.4 268.6 H872.7" fill="none" stroke="#4a4a4a" stroke-width="0.45" />
<path d="M849.4 271.3 H868.5" fill="none" stroke="#4a4a4a" stroke-width="0.45" />
<path d="M849.4 274 H863.4" fill="none" stroke="#4a4a4a" stroke-width="0.45" />
<path d="M849.4 276.6 H861.8" fill="none" stroke="#4a4a4a" stroke-width="0.45" />
<path d="M849.4 279.7 H858.7" fill="none" stroke="#4a4a4a" stroke-width="0.45" />
<path d="M849.4 283.6 H855.6" fill="none" stroke="#4a4a4a" stroke-width="0.45" />
<path d="M923.4 268.6 H900.7" fill="none" stroke="#4a4a4a" stroke-width="0.45" />
<path d="M923.4 271.3 H904.1" fill="none" stroke="#4a4a4a" stroke-width="0.45" />
<path d="M923.4 274.6 H909.4" fill="none" stroke="#4a4a4a" stroke-width="0.45" />
<path d="M923.4 278.1 H913.8" fill="none" stroke="#4a4a4a" stroke-width="0.45" />
<path d="M923.4 282 H918.5" fill="none" stroke="#4a4a4a" stroke-width="0.45" />
<path d="M849.4 361.3 H855.0" fill="none" stroke="#4a4a4a" stroke-width="0.45" />
<path d="M923.4 361.3 H919.5" fill="none" stroke="#4a4a4a" stroke-width="0.45" />
<path d="M849.4 364.1 H858.6" fill="none" stroke="#4a4a4a" stroke-width="0.45" />
<path d="M923.4 364.1 H915.7" fill="none" stroke="#4a4a4a" stroke-width="0.45" />
<path d="M849.4 366.9 H862.2" fill="none" stroke="#4a4a4a" stroke-width="0.45" />
<path d="M923.4 366.9 H911.9" fill="none" stroke="#4a4a4a" stroke-width="0.45" />
<path d="M849.4 369.7 H865.8" fill="none" stroke="#4a4a4a" stroke-width="0.45" />
<path d="M923.4 369.7 H908.1" fill="none" stroke="#4a4a4a" stroke-width="0.45" />
<path d="M849.4 372.5 H869.4" fill="none" stroke="#4a4a4a" stroke-width="0.45" />
<path d="M923.4 372.5 H904.3" fill="none" stroke="#4a4a4a" stroke-width="0.45" />
<path d="M849.4 375.3 H873.0" fill="none" stroke="#4a4a4a" stroke-width="0.45" />
<path d="M923.4 375.3 H900.5" fill="none" stroke="#4a4a4a" stroke-width="0.45" />
<path d="M862.2 217.9 V212.7 Q864 200 886.7 199.1 Q909 199 911.1 209.2 V224.9 M865.4 217.9 V213.5 Q867 202.3 886.7 201.8 Q906.5 201.8 908.5 210.1 V224.9" fill="none" stroke="#4a4a4a" stroke-width="0.55" />
<path d="M899.4 225.8 H948.7 M899.4 225.8 V234.5 L907.6 249.4 L915.5 251.1 V257.5 H924 L925.6 253.6 H927.2 V251 H940 M929.5 225.8 V230.5 H948.7 M940 225.8 V254.6 H927.2 V257.5 H924 M948.7 225.8 V242.4" fill="none" stroke="#4a4a4a" stroke-width="0.55" />
<path d="M907.6 249.4 L909 247.6 H917.5 Q920.5 248 920.6 251 V257.5" fill="none" stroke="#4a4a4a" stroke-width="0.55" />
<path d="M950.4 242.4 Q953.5 252 944.3 262.5 Q940.5 265.6 935.6 266 M940.2 242.4 H950.4 M940.8 241.5 Q948.5 245 947 251 Q945.5 257 936.8 262.3" fill="none" stroke="#4a4a4a" stroke-width="0.55" />
<path d="M933.8 259.9 H937.3 V266.9 H933.8 Z M930.3 263.4 H933.8 V266.9 H930.3 Z M934.6 254.6 V259.9 M936.6 254.6 V259.9" fill="none" stroke="#4a4a4a" stroke-width="0.55" />
<path d="M935.6 217.9 H954.8 V224.9 H935.6 Z M938.2 209.6 H951 V214.5 H938.2 Z M941.7 214.5 V217.9 M947.8 214.5 V217.9 M942.5 216 H947" fill="none" stroke="#4a4a4a" stroke-width="0.55" />
<path d="M922.5 213.6 H932.4 V222 H922.5 Z M926.9 222 V225.8 M930.3 222 V225.8 M927 223.8 H930.2 M915 218.8 H918" fill="none" stroke="#4a4a4a" stroke-width="0.55" />
<circle cx="812.50" cy="353.80" r="13.60" fill="none" stroke="#4a4a4a" stroke-width="0.55" />
<circle cx="812.70" cy="353.80" r="6.60" fill="none" stroke="#4a4a4a" stroke-width="0.55" stroke-dasharray="2 1.5"/>
<path d="M824.5 343.5 L828.2 340 H830.2 V367.5 H828.2 L823.5 364.5 M828.2 340 V367.5" fill="none" stroke="#4a4a4a" stroke-width="0.55" />
<path d="M808 325.5 L807.5 347.5 M833.3 331.8 L820 352.5" fill="none" stroke="#4a4a4a" stroke-width="0.55" />
<circle cx="752.50" cy="378.80" r="24.40" fill="none" stroke="#4a4a4a" stroke-width="0.55" />
<circle cx="752.60" cy="379.60" r="10.40" fill="none" stroke="#4a4a4a" stroke-width="0.55" stroke-dasharray="2.2 1.6"/>
<path d="M716.3 405.2 H788.8 V410.75 M716.3 405.2 V410.75" fill="none" stroke="#4a4a4a" stroke-width="0.55" />
<path d="M728.8 383 V404 M776.2 383 V404 M728.8 401.8 H735.5 V405 M776.2 401.8 H769.5 V405 M729.5 403.4 H735 M770 403.4 H775.5 M733 396 L736 401.8 M772 396 L769 401.8" fill="none" stroke="#4a4a4a" stroke-width="0.55" />
<path d="M716.3 357.5 L733.8 363 M718 385.5 L735 387" fill="none" stroke="#4a4a4a" stroke-width="0.55" />
<path d="M733.8 363 L747.5 368.8 M735 387 L750 388.8" fill="none" stroke="#4a4a4a" stroke-width="0.55" stroke-dasharray="2.2 1.6"/>
<text x="79" y="80.4" font-family="'DejaVu Serif','Liberation Serif',serif" font-size="25.3" fill="#9b2932" stroke="none">WIN564</text>
<text x="186.6" y="81.6" font-family="'Liberation Sans','Noto Sans CJK SC',sans-serif" font-size="25.1" font-weight="300" fill="#1a1a1a" stroke="none">机构示意图</text>
<text transform="translate(0,82) scale(0.96,1)" font-family="'Liberation Mono',monospace" font-size="26" fill="#a0a0a0" stroke="#fff" stroke-width="0.65"><tspan font-style="italic" x="346.88 359.48 372.08 384.69 397.29 409.90">WIN564</tspan> <tspan x="431.67 444.55 457.44 470.32 483.21 496.09 508.98 521.86 534.75 547.64 563.54 576.56 589.42 602.27 615.12 627.98 640.83 653.69 666.54 679.40 692.25 705.10 717.96 730.81">MECHANICAL CONFIGURATION</tspan></text>
</svg>
</body></html>
